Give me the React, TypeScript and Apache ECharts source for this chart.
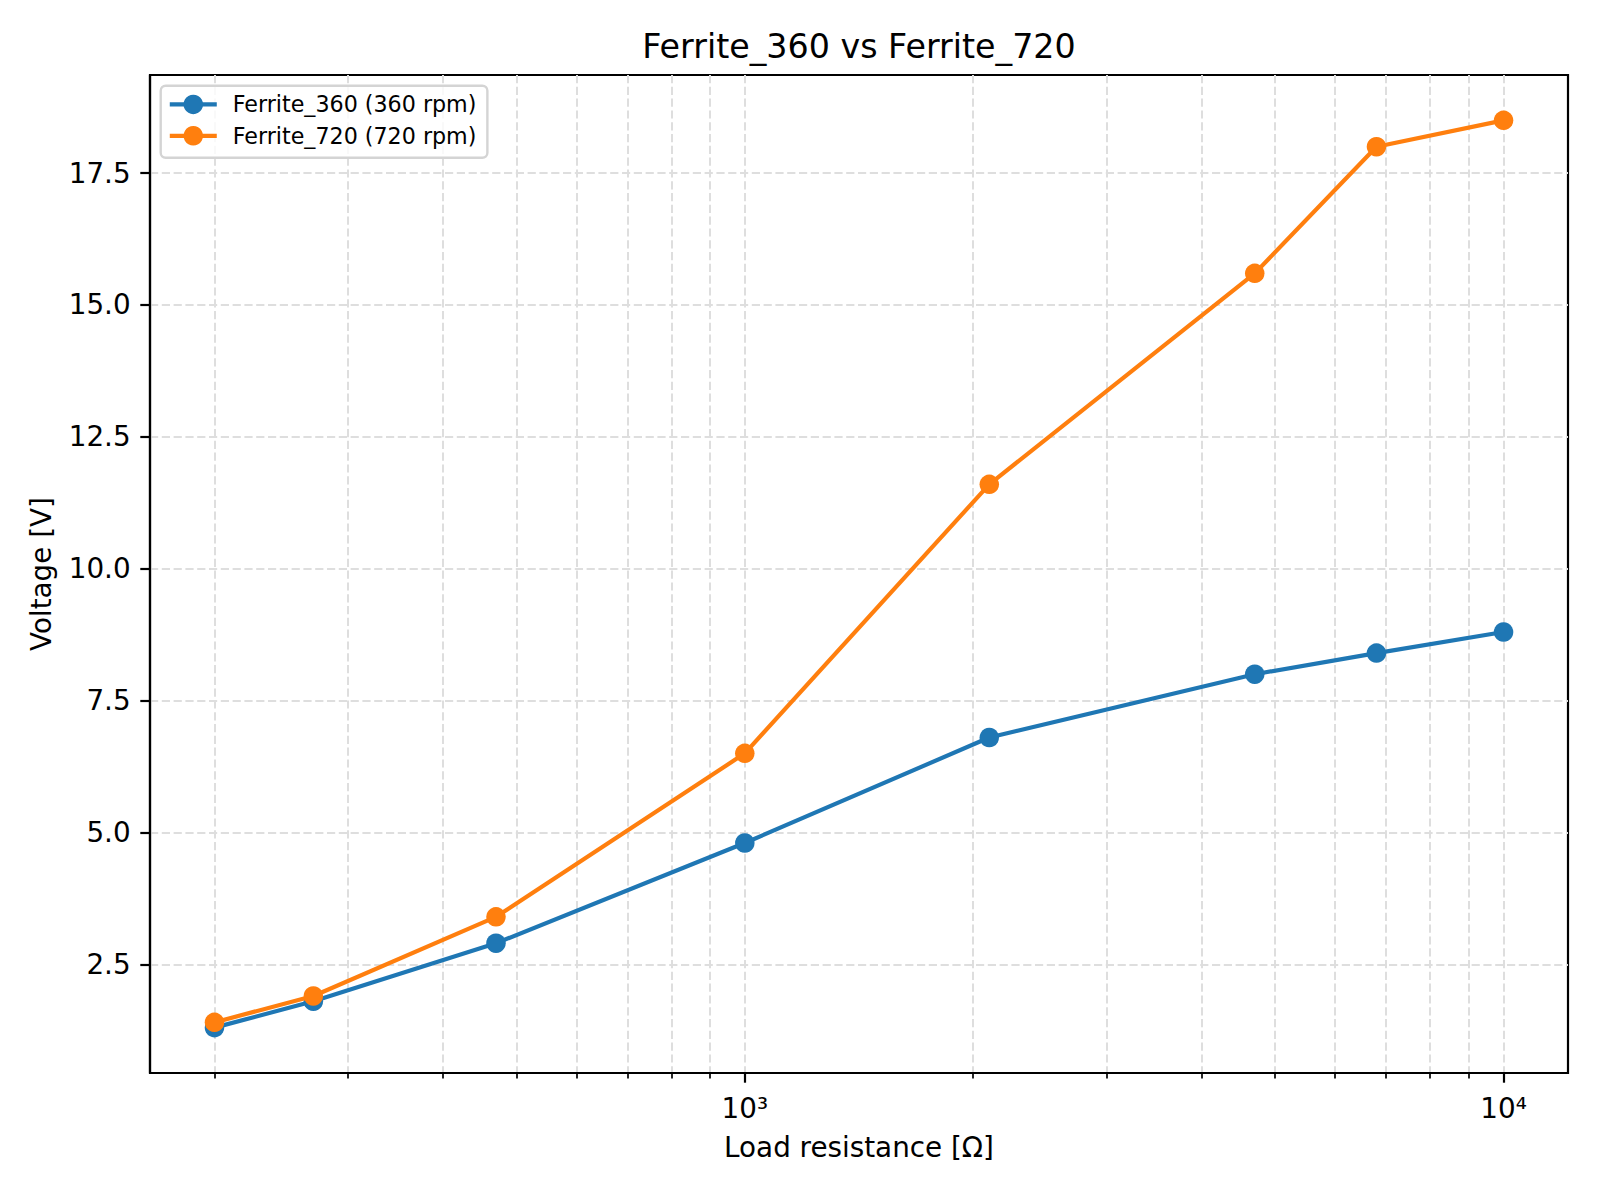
import React, { useEffect, useRef } from 'react';
import * as echarts from 'echarts';

// ---- data ----
const resistance = [200, 270, 470, 1000, 2100, 4700, 6800, 10000];
const voltage360 = [1.3, 1.8, 2.9, 4.8, 6.8, 8.0, 8.4, 8.8];
const voltage720 = [1.4, 1.9, 3.4, 6.5, 11.6, 15.6, 18.0, 18.5];
const seriesNames = ['Ferrite_360 (360 rpm)', 'Ferrite_720 (720 rpm)'];
const seriesColors = ['#1f77b4', '#ff7f0e'];
const yTicks = [2.5, 5, 7.5, 10, 12.5, 15, 17.5];
const xMajorTicks = [1000, 10000];
const xMinorTicks = [200, 300, 400, 500, 600, 700, 800, 900, 1000, 2000, 3000, 4000, 5000, 6000, 7000, 8000, 9000, 10000];
const titleText = 'Ferrite_360 vs Ferrite_720';
const xLabel = 'Load resistance [Ω]';
const yLabel = 'Voltage [V]';

// ---- axis limits (matplotlib-like 5% margins) ----
const lx = resistance.map((r) => Math.log10(r));
const lxMin = Math.min(...lx);
const lxMax = Math.max(...lx);
const xPad = 0.05 * (lxMax - lxMin);
const xMin = Math.pow(10, lxMin - xPad);
const xMax = Math.pow(10, lxMax + xPad);
const allV = [...voltage360, ...voltage720];
const vMin = Math.min(...allV);
const vMax = Math.max(...allV);
const yPad = 0.05 * (vMax - vMin);
const yMin = vMin - yPad;
const yMax = vMax + yPad;

const SUP = '⁰¹²³⁴⁵⁶⁷⁸⁹';
const pow10Label = (v: number) =>
  '10' + String(Math.round(Math.log10(v))).split('').map((d) => SUP[+d]).join('');

const FONT = 'DejaVu Sans';
const gridLine = { color: '#dedede', width: 2, type: [8.2, 3.6] as number[] };

const buildOption = () => ({
  animation: false,
  backgroundColor: '#ffffff',
  textStyle: { fontFamily: FONT },
  title: {
    text: titleText,
    left: 859,
    top: 46.5,
    padding: 0,
    textAlign: 'center',
    textVerticalAlign: 'middle',
    textStyle: { fontFamily: FONT, fontSize: 33.3, fontWeight: 'normal', color: '#000' },
  },
  legend: {
    orient: 'vertical',
    left: 160.7,
    top: 85.7,
    padding: [7.7, 11, 11, 7],
    itemGap: 9.4,
    itemWidth: 47,
    itemHeight: 24.4,
    backgroundColor: 'rgba(255,255,255,0.8)',
    borderColor: '#d4d4d4',
    borderWidth: 2.4,
    borderRadius: 5,
    selectedMode: false,
    lineStyle: { width: 4.17 },
    textStyle: { fontFamily: FONT, fontSize: 22.2, color: '#000', padding: [0, 0, 0, 11] },
    data: seriesNames,
  },
  grid: {
    left: 150,
    right: 32,
    top: 75,
    bottom: 127,
    show: true,
    borderColor: '#000',
    borderWidth: 2.2,
    backgroundColor: 'transparent',
    containLabel: false,
    outerBoundsMode: 'none',
  },
  xAxis: [
    {
      type: 'log',
      min: xMin,
      max: xMax,
      position: 'bottom',
      axisLine: { show: false, onZero: false },
      axisTick: { show: true, length: 5.6, customValues: xMinorTicks, lineStyle: { color: '#000', width: 1.7 } },
      axisLabel: { show: false },
      splitLine: { show: true, lineStyle: gridLine },
    },
    {
      type: 'log',
      min: xMin,
      max: xMax,
      position: 'bottom',
      axisLine: { show: true, onZero: false, lineStyle: { color: '#000', width: 2.2 } },
      axisTick: { show: true, length: 9.7, customValues: xMajorTicks, lineStyle: { color: '#000', width: 2.2 } },
      axisLabel: {
        customValues: xMajorTicks,
        formatter: (v: number) => pow10Label(v),
        margin: 21,
        fontFamily: FONT,
        fontSize: 27.8,
        color: '#000',
      },
      splitLine: { show: false },
      name: xLabel,
      nameLocation: 'middle',
      nameGap: 60,
      nameTextStyle: { fontFamily: FONT, fontSize: 27.8, color: '#000' },
    },
  ],
  yAxis: {
    type: 'value',
    min: yMin,
    max: yMax,
    position: 'left',
    axisLine: { show: true, onZero: false, lineStyle: { color: '#000', width: 2.2 } },
    axisTick: { show: true, length: 9.7, customValues: yTicks, lineStyle: { color: '#000', width: 2.2 } },
    axisLabel: {
      customValues: yTicks,
      formatter: (v: number) => v.toFixed(1),
      margin: 19.4,
      fontFamily: FONT,
      fontSize: 27.8,
      color: '#000',
      padding: [3, 0, 0, 0],
    },
    splitLine: { show: true, lineStyle: gridLine },
    name: yLabel,
    nameLocation: 'middle',
    nameGap: 95,
    nameTextStyle: { fontFamily: FONT, fontSize: 27.8, color: '#000' },
  },
  series: [voltage360, voltage720].map((vals, si) => ({
    type: 'line',
    name: seriesNames[si],
    xAxisIndex: 0,
    yAxisIndex: 0,
    z: 2 + si,
    data: resistance.map((r, i) => [r, vals[i]]),
    symbol: 'circle',
    symbolSize: 19.5,
    showSymbol: true,
    lineStyle: { color: seriesColors[si], width: 4.17 },
    itemStyle: { color: seriesColors[si] },
    emphasis: { disabled: true },
  })),
});

export default function App() {
  const ref = useRef<HTMLDivElement>(null);
  useEffect(() => {
    document.body.style.margin = '0';
    const chart = echarts.init(ref.current as HTMLDivElement, null, { renderer: 'svg' });
    chart.setOption(buildOption() as any);
    return () => chart.dispose();
  }, []);
  return <div ref={ref} style={{ width: 1600, height: 1200, background: '#fff' }} />;
}
